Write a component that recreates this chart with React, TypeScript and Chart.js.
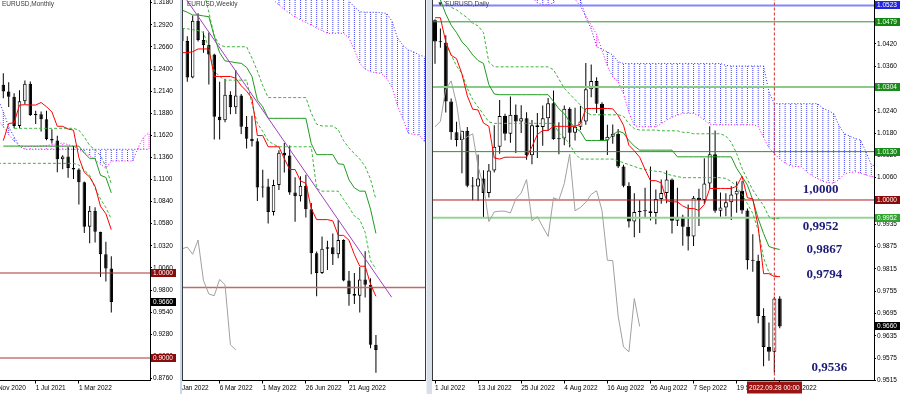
import React, { useEffect, useRef } from "react";
import { Chart, registerables } from "chart.js";

Chart.register(...registerables);

const FONT = '"Liberation Sans", "DejaVu Sans", Arial, sans-serif';

// ================= MONTHLY (index 0 = Jan 2021) =================
const M_OPEN = [1.2216,1.2136,1.2075,1.1728,1.2020,1.2227,1.1858,1.1869,1.1808,1.1577,1.1558,1.1338,1.1370,1.1235,1.1218,1.1067,1.0545,1.0733,1.0484,1.0220,1.0054];
const M_HIGH = [1.2349,1.2243,1.2114,1.2150,1.2266,1.2254,1.1909,1.1900,1.1909,1.1692,1.1616,1.1386,1.1483,1.1495,1.1233,1.1076,1.0787,1.0774,1.0486,1.0369,1.0198];
const M_LOW = [1.2057,1.1952,1.1704,1.1704,1.1986,1.1847,1.1752,1.1664,1.1563,1.1524,1.1186,1.1222,1.1121,1.1106,1.0806,1.0471,1.0349,1.0359,0.9952,0.9901,0.9536];
const M_CLOSE = [1.2136,1.2075,1.1728,1.2020,1.2227,1.1858,1.1869,1.1808,1.1577,1.1558,1.1338,1.1370,1.1235,1.1218,1.1067,1.0545,1.0733,1.0484,1.0220,1.0054,0.9660];
const M_TENKAN = [1.1558,1.1759,1.1767,1.1976,1.1980,1.1976,1.1976,1.2006,1.1956,1.1895,1.1726,1.1726,1.1694,1.1680,1.1358,1.1186,1.1129,1.1020,1.0784,1.0698,1.0510];
const M_KIJUN = [1.1493,1.1493,1.1493,1.1493,1.1493,1.1493,1.1493,1.1493,1.1493,1.1493,1.1493,1.1493,1.1493,1.1493,1.1493,1.1410,1.1349,1.1349,1.1150,1.1125,1.0943];
const M_CLOUD_START = -1;
const M_SSA = [1.1800,1.1720,1.1630,1.1550,1.1500,1.1485,1.1490,1.1490,1.1495,1.1500,1.1510,1.1520,1.1530,1.1510,1.1490,1.1455,1.1420,1.1380,1.1330,1.1280,1.1232,1.1318,1.1318,1.1318,1.1318,1.1318,1.1480,1.1600,1.1650];
const M_SSB = [1.2050,1.1900,1.1720,1.1600,1.1490,1.1455,1.1455,1.1455,1.1455,1.1455,1.1455,1.1455,1.1455,1.1455,1.1455,1.1455,1.1455,1.1455,1.1455,1.1455,1.1455,1.1455,1.1455,1.1455,1.1455,1.1455,1.1455,1.1455,1.1455];
const M_DASH_A_START = 2;
const M_DASH_A = [1.1702,1.1702,1.1702,1.1702,1.1702,1.1702,1.1702,1.1702,1.1702,1.1702,1.1702,1.1702,1.1680,1.1600,1.1500,1.1450,1.1380,1.1250,1.1050];
const M_DASH_B_START = -1;
const M_DASH_B = [1.1290,1.1290,1.1290,1.1290,1.1290,1.1290,1.1290,1.1290,1.1290,1.1290,1.1290,1.1290,1.1290,1.1290,1.1290,1.1270,1.1210,1.1150,1.1000,1.0870,1.0770,1.0635];
const M_LEVELS = [1.0000, 0.9000];
const M_BOXES = [1.0000, 0.9660, 0.9000];
const M_YTICKS = [1.3180,1.2920,1.2660,1.2400,1.2140,1.1880,1.1620,1.1360,1.1100,1.0840,1.0580,1.0320,1.0060,0.9800,0.9540,0.9280,0.9020,0.8760];
const M_XTICKS = [-2, 6, 14];
const M_XLABELS = ["1 Nov 2020", "1 Jul 2021", "1 Mar 2022"];

// ================= WEEKLY (index 0 = week of 2 Jan 2022) =================
const W_OPEN = [1.1370,1.1359,1.1412,1.1344,1.1145,1.1454,1.1349,1.1321,1.1270,1.0931,1.0912,1.1051,1.0983,1.1047,1.0876,1.0810,1.0797,1.0545,1.0551,1.0412,1.0558,1.0735,1.0719,1.0518,1.0497,1.0554,1.0426,1.0186,1.0079,1.0211,1.0220,1.0181,1.0259,1.0038,0.9965,0.9955,1.0044,1.0015,0.9688];
const W_HIGH = [1.1386,1.1483,1.1482,1.1369,1.1483,1.1495,1.1395,1.1390,1.1274,1.1121,1.1137,1.1070,1.1185,1.1054,1.0935,1.0936,1.0813,1.0642,1.0593,1.0587,1.0748,1.0787,1.0774,1.0601,1.0606,1.0615,1.0461,1.0196,1.0278,1.0255,1.0294,1.0368,1.0263,1.0090,1.0079,1.0112,1.0198,1.0051,0.9741];
const W_LOW = [1.1272,1.1315,1.1300,1.1121,1.1140,1.1340,1.1280,1.1106,1.0806,1.0806,1.0900,1.0944,1.0945,1.0837,1.0757,1.0769,1.0471,1.0491,1.0349,1.0392,1.0532,1.0627,1.0506,1.0359,1.0469,1.0382,1.0072,0.9952,1.0074,1.0096,1.0123,1.0160,1.0034,0.9900,0.9910,0.9864,0.9946,0.9669,0.9536];
const W_CLOSE = [1.1359,1.1412,1.1344,1.1145,1.1454,1.1349,1.1321,1.1270,1.0931,1.0912,1.1051,1.0983,1.1047,1.0876,1.0810,1.0797,1.0545,1.0551,1.0412,1.0558,1.0735,1.0719,1.0518,1.0497,1.0554,1.0426,1.0186,1.0079,1.0211,1.0220,1.0181,1.0259,1.0038,0.9965,0.9955,1.0044,1.0015,0.9688,0.9660];
const W_LINE_START = 2;
const W_TENKAN = [1.1280,1.1280,1.1285,1.1300,1.1300,1.1300,1.1150,1.1150,1.1150,1.1150,1.1140,1.1100,1.1070,1.1031,1.0828,1.0828,1.0767,1.0767,1.0767,1.0702,1.0643,1.0643,1.0581,1.0568,1.0430,1.0370,1.0370,1.0370,1.0363,1.0284,1.0284,1.0258,1.0180,1.0116,1.0116,1.0018,0.9952];
const W_KIJUN = [1.1512,1.1500,1.1485,1.1485,1.1480,1.1476,1.1370,1.1280,1.1235,1.1231,1.1225,1.1222,1.1200,1.1150,1.1022,1.0985,1.0922,1.0922,1.0922,1.0922,1.0922,1.0922,1.0922,1.0922,1.0784,1.0724,1.0724,1.0724,1.0724,1.0674,1.0671,1.0587,1.0543,1.0525,1.0525,1.0427,1.0295];
const W_DASH_A_START = 6;
const W_DASH_A = [1.1620,1.1500,1.1370,1.1322,1.1312,1.1312,1.1312,1.1312,1.1312,1.1250,1.1180,1.1100,1.1035,1.1035,1.1035,1.1035,1.1035,1.1035,1.1035,1.1035,1.0950,1.0890,1.0880,1.0880,1.0880,1.0860,1.0800,1.0760,1.0730,1.0700,1.0660,1.0590,1.0480];
const W_DASH_B = [1.1412,1.1410,1.1405,1.1400,1.1390,1.1300,1.1180,1.1150,1.1130,1.1130,1.1130,1.1130,1.1130,1.1000,1.0895,1.0850,1.0800,1.0780,1.0767,1.0767,1.0767,1.0767,1.0767,1.0767,1.0767,1.0540,1.0525,1.0525,1.0525,1.0525,1.0480,1.0438,1.0390,1.0370,1.0300,1.0146,1.0101];
const W_CHIKOU = [1.0211,1.0220,1.0181,1.0259,1.0038,0.9965,0.9955,1.0044,1.0015,0.9688,0.9660];
const W_CLOUD_START = 17;
const W_SSA = [1.1650,1.1600,1.1567,1.1539,1.1515,1.1494,1.1475,1.1458,1.1445,1.1431,1.1413,1.1400,1.1385,1.1385,1.1385,1.1385,1.1360,1.1294,1.1222,1.1190,1.1176,1.1170,1.1167,1.1140,1.1090,1.0990,1.0920,1.0840,1.0835,1.0831,1.0795];
const W_SSB = [1.1700,1.1700,1.1700,1.1700,1.1700,1.1700,1.1700,1.1700,1.1700,1.1700,1.1700,1.1700,1.1700,1.1700,1.1700,1.1700,1.1560,1.1530,1.1503,1.1500,1.1500,1.1500,1.1497,1.1494,1.1450,1.1360,1.1320,1.1294,1.1285,1.1267,1.1258];
const W_TREND_K = [2.89, 40.92];
const W_TREND_P = [1.1567, 0.9947];
const W_LEVELS = [1.0000];
const W_XTICKS = [1, 9, 17, 25, 33];
const W_XLABELS = ["9 Jan 2022", "6 Mar 2022", "1 May 2022", "26 Jun 2022", "21 Aug 2022"];

// ================= DAILY (index 0 = 1 Jul 2022) =================
const D_OPEN = [1.0483,1.0426,1.0423,1.0265,1.0182,1.0161,1.0186,1.0038,1.0036,1.0058,1.0019,1.0079,1.0143,1.0226,1.0178,1.0229,1.0211,1.0220,1.0120,1.0201,1.0196,
  1.0220,1.0260,1.0163,1.0165,1.0245,1.0181,1.0197,1.0211,1.0298,1.0320,1.0259,1.0160,1.0170,1.0178,1.0090,1.0038,0.9942,0.9968,0.9970,0.9970,0.9965,1.0003,1.0019,
  1.0055,0.9944,0.9955,0.9928,0.9902,1.0006,1.0000,1.0044,1.0123,0.9971,0.9980,0.9994,1.0015,1.0025,0.9972,0.9838,0.9837,0.9688,0.9605,0.9592,0.9735];
const D_HIGH = [1.0486,1.0461,1.0443,1.0273,1.0210,1.0186,1.0196,1.0062,1.0122,1.0080,1.0097,1.0201,1.0269,1.0232,1.0278,1.0257,1.0255,1.0236,1.0215,1.0234,1.0254,
  1.0274,1.0294,1.0209,1.0254,1.0249,1.0248,1.0253,1.0368,1.0364,1.0330,1.0263,1.0202,1.0203,1.0191,1.0095,1.0048,1.0018,0.9999,1.0033,1.0090,1.0028,1.0055,1.0079,
  1.0058,1.0033,0.9960,0.9988,1.0011,1.0030,1.0112,1.0198,1.0187,1.0020,1.0018,1.0037,1.0050,1.0051,0.9977,0.9908,0.9853,0.9709,0.9671,0.9740,0.9741];
const D_LOW = [1.0366,1.0409,1.0235,1.0162,1.0144,1.0072,1.0034,0.9999,0.9998,0.9952,1.0007,1.0074,1.0124,1.0160,1.0154,1.0126,1.0180,1.0108,1.0096,1.0113,1.0146,
  1.0186,1.0162,1.0123,1.0147,1.0142,1.0160,1.0188,1.0202,1.0276,1.0234,1.0160,1.0121,1.0151,1.0086,1.0034,0.9926,0.9900,0.9911,0.9953,0.9945,0.9935,0.9990,0.9991,
  0.9910,0.9930,0.9877,0.9864,0.9876,0.9930,0.9989,1.0030,0.9966,0.9955,0.9956,0.9946,0.9966,0.9963,0.9813,0.9807,0.9669,0.9553,0.9568,0.9536,0.9655];
const D_CLOSE = [1.0426,1.0424,1.0265,1.0182,1.0161,1.0186,1.0038,1.0036,1.0058,1.0019,1.0079,1.0143,1.0226,1.0178,1.0229,1.0211,1.0220,1.0120,1.0201,1.0196,1.0220,
  1.0260,1.0163,1.0165,1.0245,1.0181,1.0197,1.0211,1.0298,1.0320,1.0259,1.0160,1.0170,1.0178,1.0090,1.0038,0.9942,0.9968,0.9970,0.9970,0.9965,1.0003,1.0019,1.0055,
  0.9944,0.9955,0.9928,0.9902,1.0006,1.0000,1.0044,1.0123,0.9971,0.9980,0.9994,1.0015,1.0025,0.9972,0.9838,0.9837,0.9688,0.9605,0.9592,0.9735,0.9660];
const D_TENKAN = [1.0490,1.0490,1.0425,1.0389,1.0380,1.0339,1.0280,1.0244,1.0242,1.0207,1.0198,1.0113,1.0110,1.0115,1.0115,1.0115,1.0115,1.0115,1.0143,1.0176,
  1.0187,1.0187,1.0198,1.0198,1.0198,1.0198,1.0198,1.0204,1.0246,1.0246,1.0246,1.0246,1.0246,1.0245,1.0227,1.0201,1.0147,1.0132,1.0115,1.0082,
  1.0052,1.0052,1.0046,0.9998,0.9995,0.9995,0.9984,0.9977,0.9977,0.9972,0.9988,1.0031,1.0031,1.0031,1.0031,1.0031,1.0037,1.0064,1.0006,1.0003,
  0.9928,0.9802,0.9802,0.9794,0.9794];
const D_KIJUN = [1.0560,1.0538,1.0500,1.0470,1.0450,1.0425,1.0410,1.0390,1.0375,1.0367,1.0310,1.0285,1.0283,1.0283,1.0283,1.0283,1.0283,1.0283,1.0283,1.0283,
  1.0283,1.0283,1.0265,1.0245,1.0232,1.0210,1.0195,1.0184,1.0160,1.0160,1.0160,1.0160,1.0160,1.0175,1.0185,1.0180,1.0160,1.0145,1.0134,1.0134,
  1.0134,1.0134,1.0134,1.0134,1.0134,1.0116,1.0116,1.0116,1.0116,1.0116,1.0116,1.0116,1.0116,1.0116,1.0116,1.0116,1.0085,1.0063,1.0040,1.0000,
  0.9950,0.9910,0.9875,0.9870,0.9867];
const D_DASH_A_START = 1;
const D_DASH_A = [1.0545,1.0530,1.0518,1.0511,1.0500,1.0490,1.0475,1.0468,1.0450,1.0370,
  1.0358,1.0358,1.0358,1.0358,1.0358,1.0358,1.0358,1.0358,1.0358,1.0358,1.0358,
  1.0350,1.0325,1.0300,1.0285,1.0270,1.0255,1.0236,
  1.0229,1.0229,1.0229,1.0229,1.0229,1.0229,1.0225,1.0205,1.0192,
  1.0188,1.0188,1.0188,1.0188,1.0186,1.0186,1.0186,1.0186,1.0182,1.0182,
  1.0178,1.0178,1.0178,1.0178,1.0178,1.0178,
  1.0172,1.0155,1.0125,1.0085,1.0055,1.0027,1.0005,0.9985,0.9955,0.9948,0.9952];
const D_DASH_B_START = 2;
const D_DASH_B = [1.0420,1.0390,1.0360,1.0340,1.0300,1.0270,1.0250,1.0230,1.0210,
  1.0206,1.0206,1.0206,1.0206,1.0206,1.0206,1.0206,1.0206,1.0206,1.0206,1.0206,1.0206,
  1.0180,1.0168,1.0150,1.0125,
  1.0110,1.0110,1.0110,1.0110,1.0110,1.0110,1.0110,
  1.0105,1.0100,1.0095,1.0090,1.0085,1.0082,1.0080,1.0077,1.0076,1.0070,1.0066,1.0063,
  1.0060,1.0060,1.0060,1.0060,1.0060,1.0060,1.0060,1.0060,
  1.0058,1.0050,1.0035,1.0015,0.9990,0.9964,0.9919,0.9845,0.9805,0.9797,0.9794];
const D_CHIKOU = [1.0197,1.0211,1.0298,1.0320,1.0259,1.0160,1.0170,1.0178,1.0090,1.0038,0.9942,0.9968,0.9970,0.9970,0.9965,1.0003,1.0019,1.0055,0.9944,0.9955,
  0.9928,0.9902,1.0006,1.0000,1.0044,1.0123,0.9971,0.9980,0.9994,1.0015,1.0025,0.9972,0.9838,0.9837,0.9688,0.9605,0.9592,0.9735,0.9660];
const D_CLOUD_START = 17;
const D_SSA = [1.0560,1.0545,1.0530,1.0525,1.0525,1.0530,1.0548,1.0560,1.0555,1.0540,1.0520,1.0495,1.0470,1.0445,1.0403,1.0360,1.0331,1.0318,1.0285,1.0235,
  1.0200,1.0197,1.0197,1.0197,1.0197,1.0205,1.0215,1.0222,1.0228,1.0233,1.0233,1.0233,1.0226,1.0215,1.0204,1.0202,1.0202,1.0202,1.0202,1.0202,
  1.0202,1.0202,1.0202,1.0198,1.0168,1.0140,1.0125,1.0110,1.0099,1.0092,1.0090,1.0090,1.0075,1.0065,1.0058,1.0050,1.0047,1.0045,1.0055,1.0070,
  1.0074,1.0076,1.0072,1.0067,1.0063,1.0063];
const D_SSB = [1.0600,1.0600,1.0600,1.0600,1.0600,1.0600,1.0600,1.0600,1.0600,1.0600,1.0538,1.0490,1.0460,1.0412,1.0405,1.0398,1.0390,1.0372,
  1.0367,1.0367,1.0367,1.0367,1.0367,1.0367,1.0367,1.0367,1.0367,1.0367,1.0367,1.0367,1.0367,1.0367,1.0367,1.0367,1.0367,1.0367,1.0367,
  1.0362,1.0360,1.0360,1.0360,1.0360,1.0360,1.0360,1.0360,1.0290,
  1.0259,1.0259,1.0259,1.0259,1.0259,1.0259,1.0259,1.0259,1.0259,
  1.0247,1.0240,1.0233,1.0200,1.0178,1.0172,1.0165,1.0161,1.0130,1.0095,1.0090];
const D_LEVELS = [1.0523, 1.0479, 1.0304, 1.0130, 1.0000, 0.9952];
const D_BOXES = [1.0523, 1.0479, 1.0304, 1.0130, 1.0000, 0.9952, 0.9660];
const D_CROSS_IDX = 63;
const D_CROSS_LABEL = "2022.09.28 00:00";
const D_NOTES = ["1,0000", "0,9952", "0,9867", "0,9794", "0,9536"];
const D_NOTE_IDX = [71.6, 71.6, 72.3, 72.3, 73.2];
const D_NOTE_PRICE = [1.0027, 0.9929, 0.9866, 0.9799, 0.9550];
const D_YTICKS = [1.0420,1.0360,1.0300,1.0240,1.0180,1.0120,1.0060,0.9995,0.9935,0.9875,0.9815,0.9755,0.9695,0.9635,0.9575,0.9515];
const D_XTICKS = [0, 8, 16, 24, 32, 40, 48, 56, 64];
const D_XLABELS = ["1 Jul 2022","13 Jul 2022","25 Jul 2022","4 Aug 2022","16 Aug 2022","26 Aug 2022","7 Sep 2022","19 Sep 2022","29 Sep 2022"];

// ================= styles =================
const C_TENKAN = "#ff0000";
const C_KIJUN = "#1f9a1f";
const C_DASH = "#3cb43c";
const C_SSA = "#ff00ff";
const C_SSB = "#2b2bff";
const C_HATCH = "#4545ff";
const C_HATCH2 = "#ff55ff";
const C_CHIKOU = "#a0a0a0";

// ================= helpers =================
const pts = (start: number, vals: number[]) => vals.map((v, i) => ({ x: start + i, y: v }));

function lineDS(start: number, vals: number[], color: string, width: number, dash: number[], order: number) {
  return {
    type: "line", data: pts(start, vals), borderColor: color, backgroundColor: color,
    borderWidth: width, borderDash: dash, pointRadius: 0, pointHoverRadius: 0,
    fill: false, tension: 0, order, spanGaps: true,
  };
}

function levelDS(v: number, xMin: number, xMax: number, color: string, width: number, order: number) {
  return {
    type: "line", data: [{ x: xMin, y: v }, { x: xMax, y: v }], borderColor: color,
    borderWidth: width, pointRadius: 0, fill: false, tension: 0, order,
  };
}

function candleDS(start: number, O: number[], H: number[], L: number[], C: number[], bodyW: number) {
  const wick = {
    type: "bar", data: O.map((_, i) => ({ x: start + i, y: [L[i], H[i]] })),
    backgroundColor: "#000", borderWidth: 0, barThickness: 1, grouped: false,
    inflateAmount: 0, minBarLength: 1, order: 25,
  };
  const body = {
    type: "bar", data: O.map((o, i) => ({ x: start + i, y: [o, C[i]] })),
    backgroundColor: O.map((o, i) => (C[i] >= o ? "#ffffff" : "#000000")),
    borderColor: "#000", borderWidth: 1, borderSkipped: false, barThickness: bodyW,
    grouped: false, inflateAmount: 0, minBarLength: 1, order: 24,
  };
  return [wick, body];
}

function makePattern(canvas: HTMLCanvasElement, color: string) {
  const p = document.createElement("canvas");
  p.width = 1; p.height = 2;
  const g = p.getContext("2d")!;
  g.fillStyle = color; g.fillRect(0, 0, 1, 1);
  return canvas.getContext("2d")!.createPattern(p, "repeat");
}

function hatchDS(start: number, ssa: number[], ssb: number[], patUp: any, patDown: any) {
  const up: any[] = [], dn: any[] = [];
  ssa.forEach((a, i) => {
    const b = ssb[i];
    const p = { x: start + i, y: [Math.min(a, b), Math.max(a, b)] };
    if (b >= a) up.push(p); else dn.push(p);
  });
  const base = { type: "bar", borderWidth: 0, barThickness: 1, grouped: false, inflateAmount: 0, order: 30 };
  return [
    { ...base, data: up, backgroundColor: patUp },
    { ...base, data: dn, backgroundColor: patDown },
  ];
}

type Deco = {
  title: string; titleDx: number; frameLeft?: boolean; frameRight?: boolean;
  boxes: { v: number; bg: string }[];
  notes?: { t: string; x: number; y: number }[];
  dateBox?: { x: number; t: string };
};

function decoPlugin(d: Deco) {
  return {
    id: "mt4deco",
    afterDraw(chart: any) {
      const ctx = chart.ctx as CanvasRenderingContext2D;
      const a = chart.chartArea;
      const xs = chart.scales.x, ys = chart.scales.y;
      ctx.save();
      ctx.lineWidth = 1;
      ctx.strokeStyle = "#3a3a3a";
      if (d.frameLeft) { ctx.beginPath(); ctx.moveTo(a.left + 0.5, 0); ctx.lineTo(a.left + 0.5, a.bottom); ctx.stroke(); }
      if (d.frameRight) { ctx.beginPath(); ctx.moveTo(a.right - 0.5, 0); ctx.lineTo(a.right - 0.5, a.bottom); ctx.stroke(); }
      ctx.font = `6.5px ${FONT}`;
      ctx.fillStyle = "#3c3c3c"; ctx.textAlign = "left"; ctx.textBaseline = "top";
      ctx.fillText(d.title, a.left + d.titleDx, 1);
      for (const b of d.boxes) {
        const y = Math.round(ys.getPixelForValue(b.v));
        const x0 = Math.round(a.right) + 1;
        ctx.fillStyle = b.bg; ctx.fillRect(x0, y - 4, 25, 8);
        ctx.fillStyle = "#fff"; ctx.textBaseline = "middle"; ctx.textAlign = "left";
        ctx.fillText(b.v.toFixed(4), x0 + 2, y + 0.5);
      }
      if (d.notes) {
        ctx.font = `bold 13px "Liberation Serif", "Times New Roman", serif`;
        ctx.fillStyle = "#1c1c78"; ctx.textAlign = "center"; ctx.textBaseline = "middle";
        for (const n of d.notes) ctx.fillText(n.t, xs.getPixelForValue(n.x), ys.getPixelForValue(n.y));
      }
      if (d.dateBox) {
        const x = xs.getPixelForValue(d.dateBox.x);
        ctx.font = `6.5px ${FONT}`;
        const w = ctx.measureText(d.dateBox.t).width + 4;
        ctx.fillStyle = "#9a1414";
        ctx.fillRect(Math.round(x - w / 2), a.bottom + 1, Math.round(w), 12);
        ctx.fillStyle = "#fff"; ctx.textAlign = "center"; ctx.textBaseline = "middle";
        ctx.fillText(d.dateBox.t, x, a.bottom + 7.5);
      }
      ctx.restore();
    },
  };
}

function makeConfig(p: {
  datasets: any[]; xMin: number; xMax: number; yMin: number; yMax: number;
  xTicks: number[]; xLabels: string[]; yTicks: number[]; yWidth: number; showY: boolean; deco: Deco;
}) {
  const tickFont = { family: FONT, size: 6.5 };
  return {
    type: "line",
    data: { datasets: p.datasets },
    options: {
      animation: false, responsive: false, maintainAspectRatio: false, devicePixelRatio: 1, events: [],
      layout: { padding: 0 },
      plugins: { legend: { display: false }, tooltip: { enabled: false }, title: { display: false } },
      scales: {
        x: {
          type: "linear", min: p.xMin, max: p.xMax, offset: false,
          afterBuildTicks: (s: any) => { s.ticks = p.xTicks.map((v) => ({ value: v })); },
          afterFit: (s: any) => { s.height = 13.5; s.paddingLeft = 0; s.paddingRight = 0; },
          ticks: {
            autoSkip: false, maxRotation: 0, minRotation: 0, align: "start", padding: 1, color: "#000",
            font: tickFont, callback: (_v: any, i: number) => p.xLabels[i],
          },
          grid: { display: true, drawOnChartArea: false, drawTicks: true, tickLength: 3, color: "#000", offset: false },
          border: { display: true, color: "#000", width: 1 },
        },
        y: {
          type: "linear", position: "right", min: p.yMin, max: p.yMax, display: p.showY,
          afterBuildTicks: (s: any) => { s.ticks = p.yTicks.map((v) => ({ value: v })); },
          afterFit: (s: any) => { s.width = p.yWidth; s.paddingTop = 0; s.paddingBottom = 0; },
          ticks: { autoSkip: false, padding: 1, color: "#000", font: tickFont, callback: (v: any) => Number(v).toFixed(4) },
          grid: { display: true, drawOnChartArea: false, drawTicks: true, tickLength: 2, color: "#000" },
          border: { display: true, color: "#000", width: 1 },
        },
      },
    },
    plugins: [decoPlugin(p.deco)],
  };
}

// ================= panels =================
function monthly(canvas: HTMLCanvasElement) {
  const xMin = -0.611, xMax = 27.17;
  const ds: any[] = [
    ...hatchDS(M_CLOUD_START, M_SSA, M_SSB, makePattern(canvas, C_HATCH), makePattern(canvas, C_HATCH2)),
    lineDS(M_CLOUD_START, M_SSA, C_SSA, 1, [1, 2], 29),
    lineDS(M_CLOUD_START, M_SSB, C_SSB, 1, [1, 2], 29),
    ...candleDS(0, M_OPEN, M_HIGH, M_LOW, M_CLOSE, 3.5),
    ...M_LEVELS.map((v) => levelDS(v, xMin, xMax, "#a83232", 1, 15)),
    lineDS(M_DASH_A_START, M_DASH_A, C_DASH, 1, [3, 2], 11),
    lineDS(M_DASH_B_START, M_DASH_B, C_DASH, 1, [3, 2], 11),
    lineDS(0, M_KIJUN, C_KIJUN, 1, [], 10),
    lineDS(0, M_TENKAN, C_TENKAN, 1, [], 9),
  ];
  return makeConfig({
    datasets: ds, xMin, xMax, yMin: 0.87353, yMax: 1.32118,
    xTicks: M_XTICKS, xLabels: M_XLABELS, yTicks: M_YTICKS, yWidth: 30, showY: true,
    deco: {
      title: "EURUSD,Monthly", titleDx: 2,
      boxes: M_BOXES.map((v, i) => ({ v, bg: ["#8b0a0a", "#000000", "#8b0a0a"][i] })),
    },
  });
}

function weekly(canvas: HTMLCanvasElement) {
  const xMin = 2.017, xMax = 47.29;
  const ds: any[] = [
    ...hatchDS(W_CLOUD_START, W_SSA, W_SSB, makePattern(canvas, C_HATCH), makePattern(canvas, C_HATCH2)),
    lineDS(W_CLOUD_START, W_SSA, C_SSA, 1, [1, 2], 29),
    lineDS(W_CLOUD_START, W_SSB, C_SSB, 1, [1, 2], 29),
    ...candleDS(0, W_OPEN, W_HIGH, W_LOW, W_CLOSE, 3.5),
    ...W_LEVELS.map((v) => levelDS(v, xMin, xMax, "#c26a6a", 1.5, 15)),
    lineDS(W_LINE_START, W_CHIKOU, C_CHIKOU, 1, [], 12),
    lineDS(W_DASH_A_START, W_DASH_A, C_DASH, 1, [3, 2], 11),
    lineDS(W_LINE_START, W_DASH_B, C_DASH, 1, [3, 2], 11),
    lineDS(W_LINE_START, W_KIJUN, C_KIJUN, 1, [], 10),
    lineDS(W_LINE_START, W_TENKAN, C_TENKAN, 1, [], 9),
    {
      type: "line", data: W_TREND_K.map((k, i) => ({ x: k, y: W_TREND_P[i] })),
      borderColor: "#a040c0", borderWidth: 1, pointRadius: 0, fill: false, tension: 0, order: 8,
    },
  ];
  return makeConfig({
    datasets: ds, xMin, xMax, yMin: 0.94932, yMax: 1.15668,
    xTicks: W_XTICKS, xLabels: W_XLABELS, yTicks: [], yWidth: 0, showY: false,
    deco: { title: "EURUSD,Weekly", titleDx: 5, frameLeft: true, frameRight: true, boxes: [] },
  });
}

function daily(canvas: HTMLCanvasElement) {
  const xMin = -0.557, xMax = 81.5;
  const yMin = 0.951478, yMax = 1.05376;
  const levelColors = ["#8484ff", "#2f922f", "#8acb8a", "#249a24", "#b01c1c", "#96d496"];
  const levelWidths = [2, 1, 2, 1, 1, 2];
  const boxColors = ["#2424e0", "#138513", "#1b8c1b", "#188a18", "#8b0a0a", "#2fa52f", "#000000"];
  const ds: any[] = [
    ...hatchDS(D_CLOUD_START, D_SSA, D_SSB, makePattern(canvas, C_HATCH), makePattern(canvas, C_HATCH2)),
    lineDS(D_CLOUD_START, D_SSA, C_SSA, 1, [1, 2], 29),
    lineDS(D_CLOUD_START, D_SSB, C_SSB, 1, [1, 2], 29),
    ...candleDS(0, D_OPEN, D_HIGH, D_LOW, D_CLOSE, 4),
    ...D_LEVELS.map((v, i) => levelDS(v, xMin, xMax, levelColors[i], levelWidths[i], 15)),
    lineDS(0, D_CHIKOU, C_CHIKOU, 1, [], 12),
    lineDS(D_DASH_A_START, D_DASH_A, C_DASH, 1, [3, 2], 11),
    lineDS(D_DASH_B_START, D_DASH_B, C_DASH, 1, [3, 2], 11),
    lineDS(0, D_KIJUN, C_KIJUN, 1, [], 10),
    lineDS(0, D_TENKAN, C_TENKAN, 1, [], 9),
    {
      type: "line", data: [{ x: D_CROSS_IDX, y: yMin }, { x: D_CROSS_IDX, y: yMax }],
      borderColor: "#d03030", borderWidth: 1, borderDash: [3, 2], pointRadius: 0, fill: false, order: 7,
    },
  ];
  return makeConfig({
    datasets: ds, xMin, xMax, yMin, yMax,
    xTicks: D_XTICKS, xLabels: D_XLABELS, yTicks: D_YTICKS, yWidth: 26, showY: true,
    deco: {
      title: "\u25BC EURUSD,Daily", titleDx: 5, frameLeft: true,
      boxes: D_BOXES.map((v, i) => ({ v, bg: boxColors[i] })),
      notes: D_NOTES.map((t, i) => ({ t, x: D_NOTE_IDX[i], y: D_NOTE_PRICE[i] })),
      dateBox: { x: D_CROSS_IDX, t: D_CROSS_LABEL },
    },
  });
}

export default function App() {
  const mRef = useRef<HTMLCanvasElement>(null);
  const wRef = useRef<HTMLCanvasElement>(null);
  const dRef = useRef<HTMLCanvasElement>(null);

  useEffect(() => {
    const charts: Chart[] = [];
    if (mRef.current) charts.push(new Chart(mRef.current, monthly(mRef.current) as any));
    if (wRef.current) charts.push(new Chart(wRef.current, weekly(wRef.current) as any));
    if (dRef.current) charts.push(new Chart(dRef.current, daily(dRef.current) as any));
    return () => charts.forEach((c) => c.destroy());
  }, []);

  const abs = (left: number, width: number, extra: any = {}) => ({
    position: "absolute" as const, left, top: 0, width, height: 394, ...extra,
  });

  return (
    <div style={{ position: "absolute", left: 0, top: 0, width: 900, height: 394, background: "#fff", overflow: "hidden" }}>
      <canvas ref={mRef} width={180} height={394} style={abs(0, 180)} />
      <div style={abs(180, 2, { background: "#c9d9ec" })} />
      <canvas ref={wRef} width={244} height={394} style={abs(182, 244)} />
      <div style={abs(426, 6, { background: "#d8dfe8", borderLeft: "1px solid #eef2f6", boxSizing: "border-box" })} />
      <canvas ref={dRef} width={468} height={394} style={abs(432, 468)} />
    </div>
  );
}
